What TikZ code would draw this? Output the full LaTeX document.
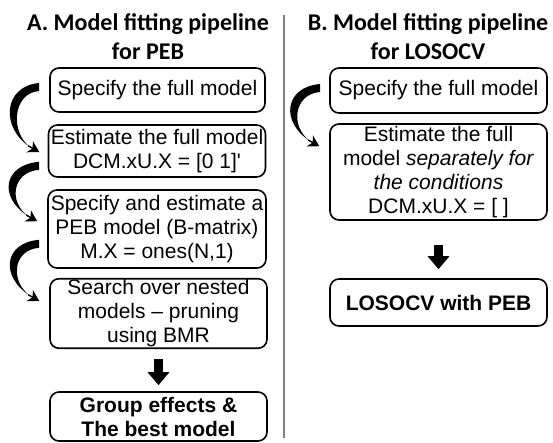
\documentclass[tikz,border=0pt]{standalone}
\usepackage{fontspec}
\setmainfont{Liberation Sans}
\newfontfamily\titlefont{Carlito}
\usepackage{tikz}
\usetikzlibrary{arrows.meta,calc}

% tapered bent arrow from a start point to a tip point
\newcommand{\bendarrow}[2]{%
  \fill ($(#1)+(0,-4)$) .. controls +(-36,3) and +(-30,-19) .. ($(#2)+(-9,-5)$)
    .. controls +(-20,-14) and +(-27,2) .. ($(#1)+(0,4)$) -- cycle;
  \draw[line width=1.4pt,-{Stealth[length=11pt,width=13pt]}] ($(#2)+(-11,-6.2)$) -- (#2);}

\begin{document}
\begin{tikzpicture}[x=1pt,y=-1pt,
  box/.style={draw,rounded corners=9pt,line width=1.6pt,align=center,inner sep=1pt,
    font=\fontsize{21}{24}\selectfont},
  title/.style={align=center,font=\titlefont\bfseries\fontsize{24}{29}\selectfont},
  bigarrow/.style={line width=9pt,-{Triangle[length=13pt,width=21pt]}}]
  \useasboundingbox (0,0) rectangle (553,442);

  \begin{scope}
    \node[title] (ta) at (148,37) {A. Model fitting pipeline\\for PEB};
    \node[box,minimum width=215,minimum height=44] (b1) at (157.5,90) {Specify the full model};
    \node[box,minimum width=217,minimum height=52] (b2) at (157,151)
      {Estimate the full model\\DCM.xU.X = [0 1]\textquotesingle};
    \node[box,minimum width=218,minimum height=78] (b3) at (157,229)
      {Specify and estimate a\\PEB model (B-matrix)\\M.X = ones(N,1)};
    \node[box,minimum width=217,minimum height=69] (b4) at (158.5,313.5)
      {Search over nested\\models -- pruning\\using BMR};
    \node[box,minimum width=217,minimum height=49,font=\fontsize{21}{24}\selectfont\bfseries]
      (b5) at (158.5,416.5) {Group effects \&\\The best model};

    \coordinate (s1) at ($(b1.west)+(-10,-3)$);
    \coordinate (e1) at ($(b2.west)+(-8.5,1)$);
    \coordinate (s2) at ($(b2.south west)+(-8.5,-12)$);
    \coordinate (e2) at ($(b3.north west)+(-10,32)$);
    \coordinate (s3) at ($(b3.south west)+(-8,-25)$);
    \coordinate (e3) at ($(b4.north west)+(-10,23)$);
    \bendarrow{s1}{e1}
    \bendarrow{s2}{e2}
    \bendarrow{s3}{e3}
    \draw[bigarrow,shorten <=10pt,shorten >=6pt] (b4.south) -- (b5.north);
  \end{scope}

  \draw[gray,line width=1.2pt] (284,15) -- (284,438);

  \begin{scope}
    \node[title] (tb) at (428,37) {B. Model fitting pipeline\\for LOSOCV};
    \node[box,minimum width=217,minimum height=45] (c1) at (438.5,90.5) {Specify the full model};
    \node[box,minimum width=217,minimum height=96] (c2) at (438.5,172)
      {Estimate the full\\model \textit{separately for}\\\textit{the conditions}\\DCM.xU.X = [ ]};
    \node[box,minimum width=217,minimum height=47,font=\fontsize{21}{24}\selectfont\bfseries]
      (c3) at (438.5,302.5) {LOSOCV with PEB};

    \coordinate (s4) at ($(c1.west)+(-9,-2.5)$);
    \coordinate (e4) at ($(c2.north west)+(-10,23)$);
    \bendarrow{s4}{e4}
    \draw[bigarrow,shorten <=24pt,shorten >=9pt] (c2.south) -- (c3.north);
  \end{scope}
\end{tikzpicture}
\end{document}
